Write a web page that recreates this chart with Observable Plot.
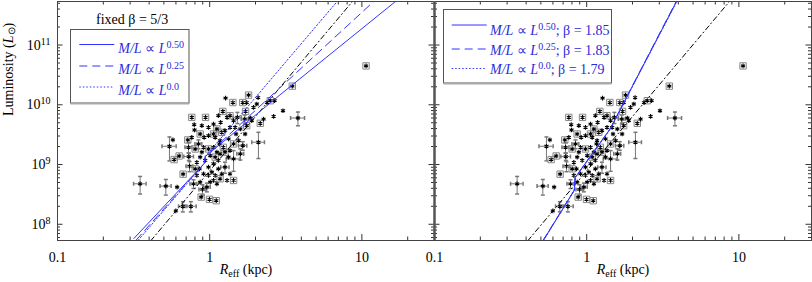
<!DOCTYPE html>
<html><head><meta charset="utf-8">
<script src="https://cdn.jsdelivr.net/npm/d3@7"></script>
<script src="https://cdn.jsdelivr.net/npm/@observablehq/plot@0.6"></script>
<style>
body{margin:0;background:#fff}
#chart{position:relative;width:812px;height:282px}
</style></head><body><div id="chart"></div>
<script>
// ---------------- DATA (R_eff in kpc, L in units of 1e9 Lsun) ----------------
// galaxies drawn with a star only
const starR = [0.611,0.599,0.573,0.791,0.795,0.857,0.823,1.271,2.08,1.75,2.38,2.67,3.03,2.63,1.85,1.14,1.18,1.30,1.435,1.49,1.71,1.36,1.17,1.087,0.982,0.920,0.911,1.06,1.115,1.17,1.33,1.14,1.06,0.982,0.934,0.866,0.823,0.911,0.982,1.033,1.087,1.14,1.20,1.06,1.115,1.36,0.866,1.47,1.59,1.89,1.36,1.26,1.06,0.982,0.888,1.55,1.33,1.16,1.008,0.888,0.763,1.30,1.008,2.04,1.94,2.26];
const starL = [0.419,0.167,2.58,4.64,3.78,0.847,0.656,12.9,13.2,10.9,10.9,11.7,7.94,6.39,6.0,6.56,5.08,6.15,5.41,3.24,3.24,1.71,2.51,2.85,3.04,2.85,1.94,1.94,1.61,1.51,1.33,1.17,1.03,0.903,1.17,1.33,1.09,0.699,0.656,0.745,0.656,0.847,0.699,0.541,0.476,0.699,0.508,4.19,3.93,5.41,4.19,3.69,4.76,4.19,4.47,2.51,2.68,2.21,1.41,1.61,2.85,0.541,0.508,10.3,9.03,5.77];
// galaxies drawn with a box around the star
const boxR = [0.669,0.584,0.630,0.718,0.763,0.879,0.997,1.104,1.435,0.939,1.80,1.65,1.42,2.50,3.49,10.65,2.15,1.72,1.22,1.36,1.23,1.06,0.866,0.982,1.26,1.17,0.803,1.75,1.115,1.435,1.087,0.803,1.20];
const boxL = [0.690,1.21,1.39,2.58,6.15,0.285,0.261,0.248,0.541,6.15,14.5,10.9,10.9,11.7,20.5,44.7,4.89,7.74,7.74,6.56,1.94,3.24,3.24,1.82,1.61,0.577,0.847,4.47,3.93,2.21,1.33,1.82,3.46];
// galaxies drawn with error bars
const errR  = [0.349,0.515,0.666,0.752,0.544,0.729,0.737,0.726,0.897,0.783,3.80,2.09,1.70,1.52,1.59,1.435,0.844,1.26,0.958,1.65];
const errL  = [0.476,0.435,0.200,0.200,2.02,1.36,0.938,1.94,0.383,0.476,6.0,2.36,5.77,6.15,1.51,1.24,2.21,0.903,0.419,2.07];
const errdR = [0.033,0.043,0.042,0.063,0.058,0.053,0.038,0.038,0.047,0.041,0.40,0.20,0.088,0.095,0.083,0.15,0.044,0.079,0.05,0.103];
const errdL = [0.155,0.127,0.039,0.039,0.87,0.19,0.18,0.38,0.075,0.079,1.55,1.10,0.96,1.30,0.32,0.47,0.37,0.19,0.07,0.34];

// model curves, left panel (fixed beta = 5/3)
const lSolidR  = [0.318,0.92,0.935,2.94,16.7];
const lSolidL  = [0.058,1.04,1.36,15.1,540];
const lDashR   = [0.328,0.92,0.935,12.0];
const lDashL   = [0.054,1.04,1.36,540];
const lDotR    = [0.339,0.92,0.935,6.9];
const lDotL    = [0.054,1.04,1.36,540];
// model curves, right panel (fitted beta)
const rSolidR  = [0.516,0.828,0.841,1.426,3.90];
const rSolidL  = [0.0527,0.369,0.607,3.94,541];
const rDashR   = [0.514,0.826,0.839,1.424,3.88];
const rDashL   = [0.0527,0.369,0.607,3.94,541];
const rDotR    = [0.518,0.830,0.843,1.43,3.92];
const rDotL    = [0.0527,0.369,0.607,3.94,541];
// reference relation drawn dash-dot in both panels
const refR = [0.41,8.7];
const refL = [0.053,540];

// ticks
const xMajor = [0.1,1,10];
const xTickLabels = ["0.1","1","10"];
const xMinor = [0.2,0.3,0.4,0.5,0.6,0.7,0.8,0.9,2,3,4,5,6,7,8,9,20];
const yMajor = [0.1,1,10,100];
const yTickLabels = ["10^8","10^9","10^10","10^11"];
const yMinor = [0.06,0.07,0.08,0.09,0.2,0.3,0.4,0.5,0.6,0.7,0.8,0.9,2,3,4,5,6,7,8,9,20,30,40,50,60,70,80,90,200,300,400,500];

// ---------------- TABLES ----------------
const stars = starR.map((r,i)=>({R:r,L:starL[i]}));
const boxes = boxR.map((r,i)=>({R:r,L:boxL[i]}));
const errs  = errR.map((r,i)=>({R:r,L:errL[i],dR:errdR[i],dL:errdL[i]}));
const allPts = [...stars, ...boxes, ...errs];
const mk = (R,L,fx)=>R.map((r,i)=>({R:r,L:L[i],fx}));

const W=812,H=282,ML=56,MR=1,MT=1,MB=42;
const fw=(W-ML-MR)/2, fh=H-MT-MB;
const tickC="#333", BLUE="#3333ff";
const capH={draw(c){c.moveTo(-2,0);c.lineTo(2,0);}};
const capV={draw(c){c.moveTo(0,-2);c.lineTo(0,2);}};

const chart = Plot.plot({
  width:W,height:H,marginLeft:ML,marginRight:MR,marginTop:MT,marginBottom:MB,
  style:{fontFamily:"'Liberation Serif','Times New Roman',serif",fontSize:"14px",background:"#fff",color:"#000"},
  x:{type:"log",domain:[0.1,30]},
  y:{type:"log",domain:[0.0535,535]},
  fx:{domain:["L","R"],padding:0,axis:null},
  marks:[
    // error bars
    Plot.ruleY(errs,{y:"L",x1:d=>d.R-d.dR,x2:d=>d.R+d.dR,stroke:"#777",strokeWidth:1}),
    Plot.ruleX(errs,{x:"R",y1:d=>d.L-d.dL,y2:d=>d.L+d.dL,stroke:"#777",strokeWidth:1}),
    Plot.dot(errs,{x:"R",y:d=>d.L-d.dL,symbol:capH,stroke:"#777"}),
    Plot.dot(errs,{x:"R",y:d=>d.L+d.dL,symbol:capH,stroke:"#777"}),
    Plot.dot(errs,{x:d=>d.R-d.dR,y:"L",symbol:capV,stroke:"#777"}),
    Plot.dot(errs,{x:d=>d.R+d.dR,y:"L",symbol:capV,stroke:"#777"}),
    // boxes
    Plot.dot(boxes,{x:"R",y:"L",symbol:"square",r:3.6,stroke:"#888",strokeWidth:1,fill:"none"}),
    // stars
    Plot.dot(allPts,{x:"R",y:"L",symbol:"asterisk",r:2.2,stroke:"#000",strokeWidth:1.1}),
    // reference dash-dot line (both panels)
    Plot.line(refR.map((r,i)=>({R:r,L:refL[i]})),{x:"R",y:"L",stroke:"#000",strokeWidth:1,strokeDasharray:"5,3,1,3",clip:true}),
    // left models
    Plot.line(mk(lSolidR,lSolidL,"L"),{x:"R",y:"L",fx:"fx",stroke:BLUE,strokeWidth:1,clip:true}),
    Plot.line(mk(lDashR,lDashL,"L"),{x:"R",y:"L",fx:"fx",stroke:BLUE,strokeWidth:1,strokeDasharray:"8,5",clip:true}),
    Plot.line(mk(lDotR,lDotL,"L"),{x:"R",y:"L",fx:"fx",stroke:BLUE,strokeWidth:1,strokeDasharray:"1.5,2",clip:true}),
    // right models
    Plot.line(mk(rSolidR,rSolidL,"R"),{x:"R",y:"L",fx:"fx",stroke:BLUE,strokeWidth:1,clip:true}),
    Plot.line(mk(rDashR,rDashL,"R"),{x:"R",y:"L",fx:"fx",stroke:BLUE,strokeWidth:1,strokeDasharray:"8,5",clip:true}),
    Plot.line(mk(rDotR,rDotL,"R"),{x:"R",y:"L",fx:"fx",stroke:BLUE,strokeWidth:1,strokeDasharray:"1.5,2",clip:true}),
    // ticks on all four sides
    Plot.ruleX(xMajor,{insetTop:fh-6,stroke:tickC}),
    Plot.ruleX(xMinor,{insetTop:fh-3.5,stroke:tickC}),
    Plot.ruleX(xMajor,{insetBottom:fh-6,stroke:tickC}),
    Plot.ruleX(xMinor,{insetBottom:fh-3.5,stroke:tickC}),
    Plot.ruleY(yMajor,{insetRight:fw-6,stroke:tickC}),
    Plot.ruleY(yMinor,{insetRight:fw-3.5,stroke:tickC}),
    Plot.ruleY(yMajor,{insetLeft:fw-6,stroke:tickC}),
    Plot.ruleY(yMinor,{insetLeft:fw-3.5,stroke:tickC}),
    Plot.frame({stroke:"#444"}),
    Plot.ruleX([{fx:"R",x:0.1}],{x:"x",fx:"fx",stroke:"#555",strokeWidth:2.5}),
    // axes
    Plot.axisX({ticks:xMajor,tickSize:0,tickPadding:12,tickFormat:d=>xTickLabels[xMajor.indexOf(d)],label:null,fontSize:14}),
    Plot.axisY({ticks:yMajor,tickSize:0,tickPadding:7,tickFormat:d=>yTickLabels[yMajor.indexOf(d)],label:null,fontSize:14}),
    Plot.text(["Reff (kpc)"],{text:d=>d,frameAnchor:"bottom",dy:33,fontSize:14}),
    Plot.text([{fx:"L",t:"Luminosity (Lsun)"}],{fx:"fx",text:"t",frameAnchor:"left",dx:-49,dy:-5,rotate:-90,fontSize:14})
  ]
});

// rich text (italics, sub/superscripts)
chart.querySelectorAll("text").forEach(t=>{
  const s=t.textContent;
  let m;
  if((m=s.match(/^10\^(\d+)$/))){
    t.innerHTML=`10<tspan dy="-5" font-size="10">${m[1]}</tspan>`;
  } else if(s==="Reff (kpc)"){
    t.innerHTML=`<tspan font-style="italic">R</tspan><tspan dy="3" font-size="10">eff</tspan><tspan dy="-3"> (kpc)</tspan>`;
  } else if(s==="Luminosity (Lsun)"){
    t.innerHTML=`Luminosity (<tspan font-style="italic">L</tspan><tspan dy="2" font-size="10">⊙</tspan><tspan dy="-2">)</tspan>`;
  }
});

// legends
const svg=d3.select(chart);
const LTXT="#2b2bd9";
function legend(bx,by,bw,bh,lx0,lx1,tx,rows){
  const g=svg.append("g").attr("text-anchor","start");
  g.append("rect").attr("x",bx).attr("y",by).attr("width",bw).attr("height",bh)
    .attr("fill","#fff").attr("stroke","#555").attr("stroke-width",1);
  g.append("line").attr("x1",bx).attr("x2",bx+bw).attr("y1",by+bh+0.5).attr("y2",by+bh+0.5)
    .attr("stroke","#aaa").attr("stroke-width",2);
  rows.forEach(r=>{
    g.append("line").attr("x1",lx0).attr("x2",lx1).attr("y1",r.ly).attr("y2",r.ly)
      .attr("stroke",BLUE).attr("stroke-width",1).attr("stroke-dasharray",r.dash);
    g.append("text").attr("x",tx).attr("y",r.base).attr("fill",LTXT).attr("text-anchor","start")
      .style("font-family","'Liberation Serif',serif").style("font-size","14px")
      .html(`<tspan font-style="italic">M/L</tspan> ∝ <tspan font-style="italic">L</tspan><tspan dy="-5" font-size="10">${r.p}</tspan><tspan dy="5">${r.extra}</tspan>`);
  });
}
svg.append("text").attr("x",96).attr("y",23.5).attr("text-anchor","start").style("font-family","'Liberation Serif',serif")
  .style("font-size","14px").attr("fill","#000").text("fixed β = 5/3");
legend(70.5,29.5,118.5,73.5,79.3,114.3,118.3,[
  {ly:44.5,base:53.3,dash:null,p:"0.50",extra:""},
  {ly:66,base:74.3,dash:"8,5",p:"0.25",extra:""},
  {ly:87,base:95,dash:"1.5,2",p:"0.0",extra:""}
]);
legend(443.5,9.5,168,73.5,451.7,486.7,490,[
  {ly:25,base:35,dash:null,p:"0.50",extra:"; β = 1.85"},
  {ly:49,base:55,dash:"8,5",p:"0.25",extra:"; β = 1.83"},
  {ly:68.5,base:74,dash:"1.5,2",p:"0.0",extra:"; β = 1.79"}
]);

document.getElementById("chart").appendChild(chart);
</script></body></html>
